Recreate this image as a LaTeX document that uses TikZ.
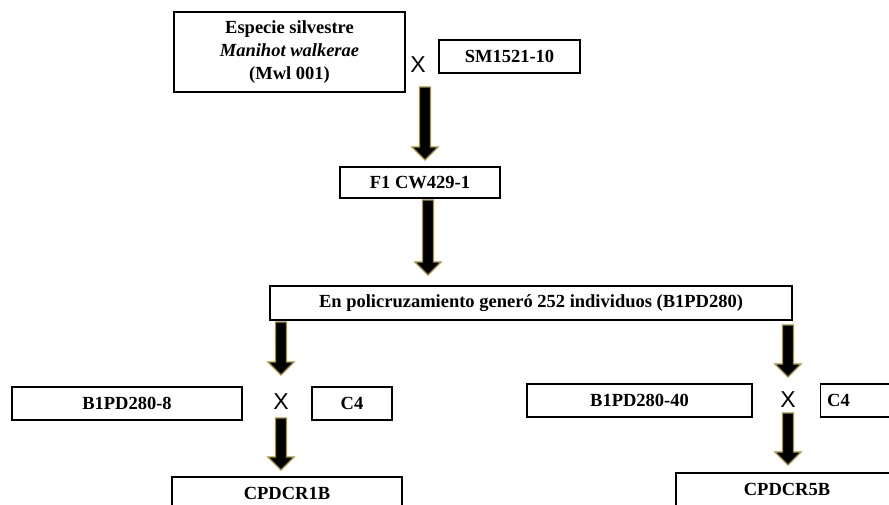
\documentclass[tikz,border=0pt]{standalone}
\usepackage{fontspec}
\setmainfont{Liberation Serif}
\newfontfamily\xfont{Liberation Sans}
\usetikzlibrary{calc}
\definecolor{arrowgold}{RGB}{165,145,60}
\newcommand\fatarr[2]{%
  \path[fat] ($(#1)+(-5.5,0)$) -- ($(#1)+(5.5,0)$) -- ($(#2)+(5.5,-13)$) -- ($(#2)+(13,-13)$) -- (#2) -- ($(#2)+(-13,-13)$) -- ($(#2)+(-5.5,-13)$) -- cycle;}
\begin{document}
\begin{tikzpicture}[x=1pt,y=-1pt,
  box/.style={draw=black, line width=1.4pt, fill=white, inner sep=0pt, font=\fontsize{18.5}{23}\selectfont\bfseries, align=center},
  cross/.style={font=\xfont\fontsize{23}{23}\selectfont, inner sep=0pt},
  fat/.style={fill=black, draw=arrowgold, line width=1.3pt, line join=miter}]
\useasboundingbox (0,0) rectangle (889,504);
\clip (0,0) rectangle (889,504);
\node[box, minimum width=231, minimum height=80] (esp) at (289.5,52) {Especie silvestre\\\textit{Manihot walkerae}\\(Mwl 001)};
\node[cross] (x1) at (418,64.5) {X};
\node[box, minimum width=141, minimum height=33] (sm) at (509.5,56.5) {SM1521-10};
\node[box, minimum width=160, minimum height=31] (f1) at (420,182.5) {F1 CW429-1};
\node[box, minimum width=522, minimum height=34] (en) at (531,303) {En policruzamiento generó 252 individuos (B1PD280)};
\node[box, minimum width=230, minimum height=33] (b8) at (127,403.5) {B1PD280-8};
\node[cross] (x2) at (281,402) {X};
\node[box, minimum width=80, minimum height=33] (c4a) at (352,403.5) {C4};
\node[box, minimum width=230, minimum height=33] (cp1) at (287,493.5) {CPDCR1B};
\node[box, minimum width=225, minimum height=33] (b40) at (639.5,400.5) {B1PD280-40};
\node[cross] (x3) at (788,400) {X};
\node[box, anchor=west, minimum height=33, inner xsep=6.5pt, text width=80, align=left] (c4b) at (820,400.5) {C4};
\node[box, minimum width=222, minimum height=33] (cp5) at (787,489.5) {CPDCR5B};
\coordinate (a1s) at (425,87);  \coordinate (a1e) at (425,160);
\coordinate (a2s) at (428,200); \coordinate (a2e) at (428,275);
\coordinate (a3s) at (281,322); \coordinate (a3e) at (281,375);
\coordinate (a4s) at (281,418); \coordinate (a4e) at (281,470);
\coordinate (a5s) at (788,325); \coordinate (a5e) at (788,377);
\coordinate (a6s) at (788,413); \coordinate (a6e) at (788,465);
\fatarr{a1s}{a1e}
\fatarr{a2s}{a2e}
\fatarr{a3s}{a3e}
\fatarr{a4s}{a4e}
\fatarr{a5s}{a5e}
\fatarr{a6s}{a6e}
\end{tikzpicture}
\end{document}
